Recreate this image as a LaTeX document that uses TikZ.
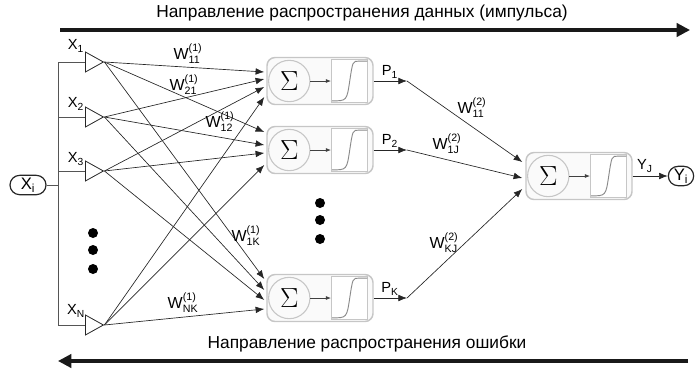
\documentclass[tikz,border=0pt]{standalone}
\usepackage{amsmath}
\usepackage{fontspec}
\setmainfont{Liberation Sans}
\usetikzlibrary{shapes.geometric, shapes.misc, arrows.meta, calc}
\definecolor{boxline}{HTML}{C6C6C6}
\definecolor{boxfill}{HTML}{FAFAFA}
\definecolor{sigline}{HTML}{8A8A8A}
\definecolor{busline}{HTML}{555555}

\newcommand{\wlab}[2]{$\text{W}^{\text{(#2)}}_{\text{#1}}$}
\newcommand{\slab}[2]{$\text{#1}_{\text{#2}}$}

\begin{document}
\begin{tikzpicture}[x=0.75pt, y=-0.75pt,
    font=\fontsize{11}{13}\selectfont,
    inputtri/.style = {isosceles triangle, isosceles triangle stretches, draw=black!85, fill=white, inner sep=0pt, minimum width=15pt, minimum height=13.5pt, anchor=west, line width=0.6pt},
    neuron/.style = {rectangle, rounded corners=6pt, draw=boxline, fill=boxfill, line width=1.1pt, minimum width=79.5pt, minimum height=35.25pt},
    sumcirc/.style = {circle, draw=boxline, fill=boxfill, line width=0.8pt, minimum size=31pt, inner sep=0pt, font=\huge},
    actbox/.style = {rectangle, draw=boxline, fill=white, line width=0.8pt, minimum width=27pt, minimum height=32pt, inner sep=0pt},
    sig/.style = {draw=sigline, line width=0.7pt},
    ionode/.style = {rounded rectangle, draw=black!85, line width=0.9pt, inner sep=0pt, minimum height=14.5pt, font=\fontsize{12.5}{14}\selectfont},
    syn/.style = {draw=black!85, line width=0.5pt, -{Latex[length=6.5pt, width=5pt]}},
    bus/.style = {draw=busline, line width=0.6pt},
    dirarrow/.style = {draw=black!90, line width=2.3pt, -{Triangle[length=10pt, width=10pt]}},
    dot/.style = {circle, fill=black, inner sep=0pt, minimum size=7.5pt},
    wtext/.style = {font=\fontsize{12}{14}\selectfont},
    dirtext/.style = {font=\fontsize{13}{15}\selectfont}
]
\useasboundingbox (0,0) rectangle (696,369);

% Direction arrows
\node (fwdtxt) [dirtext] at (362,13) {Направление распространения данных (импульса)};
\coordinate (fwdL) at (60,30);
\coordinate (fwdR) at (690,30);
\draw [dirarrow] (fwdL) -- (fwdR);
\node (bwdtxt) [dirtext] at (367,344) {Направление распространения ошибки};
\coordinate (bwdR) at (688,361);
\coordinate (bwdL) at (58,361);
\draw [dirarrow] (bwdR) -- (bwdL);

% Input
\node (Xi) [ionode, minimum width=27pt] at (28,185) {\slab{X}{i}};
\coordinate (busT) at (58,62);
\coordinate (busB) at (58,325);
\coordinate (busX) at (58,185);

\node (in1) [inputtri] at (85,62) {};
\node (in2) [inputtri] at (85,117) {};
\node (in3) [inputtri] at (85,171) {};
\node (inN) [inputtri] at (85,325) {};
\node (lx1) at (76,46) {\slab{X}{1}};
\node (lx2) at (76,104) {\slab{X}{2}};
\node (lx3) at (76,159) {\slab{X}{3}};
\node (lxN) at (76,311) {\slab{X}{N}};

\node (d1) [dot] at (93,233) {};
\node (d2) [dot] at (93,250) {};
\node (d3) [dot] at (93,269) {};

\draw [bus] (Xi.east) -- (busX);
\draw [bus] (in1.west) -- (busT) -- (busB) -- (inN.west);
\draw [bus] (in2.west) -- (in2.west -| busT);
\draw [bus] (in3.west) -- (in3.west -| busT);

% Hidden layer and output neuron
\node (H1) [neuron] at (320,81) {};
\node (H2) [neuron] at (320,150) {};
\node (HK) [neuron] at (320,298) {};
\node (O) [neuron] at (579,176) {};
\foreach \n in {H1,H2,HK,O} {
  \node (\n-s) [sumcirc] at ($(\n.west)+(23,0)$) {$\Sigma$};
  \node (\n-a) [actbox] at ($(\n.east)+(-24,0)$) {};
  \draw [draw=black!75, line width=0.7pt, -{Latex[length=4pt, width=3pt]}] (\n-s) -- (\n-a);
  \draw [sig] ($(\n-a.south west)+(1,-2)$) .. controls ($(\n-a.south)+(-3,-2)$) .. (\n-a.center)
    .. controls ($(\n-a.north)+(3,2)$) .. ($(\n-a.north)+(9,2)$) -- ($(\n-a.north east)+(-1,2)$);
}

\node (d4) [dot] at (320,203) {};
\node (d5) [dot] at (320,220) {};
\node (d6) [dot] at (320,239) {};

% Input -> hidden
\draw [syn] (in1.apex) -- ($(H1.west)+(-2,-9)$);
\draw [syn] (in2.apex) -- ($(H1.west)+(-2,-2)$);
\draw [syn] (in3.apex) -- ($(H1.west)+(-2,6)$);
\draw [syn] (inN.apex) -- ($(H1.west)+(-2,16)$);
\draw [syn] (in1.apex) -- ($(H2.west)+(-2,-18)$);
\draw [syn] (in2.apex) -- ($(H2.west)+(-2,-5)$);
\draw [syn] (in3.apex) -- ($(H2.west)+(-2,3)$);
\draw [syn] (inN.apex) -- ($(H2.west)+(-2,15)$);
\draw [syn] (in1.apex) -- ($(HK.west)+(-2,-19)$);
\draw [syn] (in2.apex) -- ($(HK.west)+(-2,-8)$);
\draw [syn] (in3.apex) -- ($(HK.west)+(-2,2)$);
\draw [syn] (inN.apex) -- ($(HK.west)+(-2,11)$);

\node (w11a) [wtext] at (188,54) {\wlab{11}{1}};
\node (w21a) [wtext] at (184,85) {\wlab{21}{1}};
\node (w12a) [wtext] at (220,122) {\wlab{12}{1}};
\node (w1Ka) [wtext] at (246,236) {\wlab{1K}{1}};
\node (wNKa) [wtext] at (183,303) {\wlab{NK}{1}};

% Hidden -> output
\coordinate (p1) at (407,81);
\coordinate (p2) at (407,150);
\coordinate (pK) at (407,298);
\draw [syn] (H1.east) -- (p1);
\draw [syn] (H2.east) -- (p2);
\draw [syn] (HK.east) -- (pK);
\node (lp1) at (390,72) {\slab{P}{1}};
\node (lp2) at (390,141) {\slab{P}{2}};
\node (lpK) at (390,289) {\slab{P}{K}};
\draw [syn] (p1) -- ($(O.west)+(-3,-14)$);
\draw [syn] (p2) -- ($(O.west)+(-3,2)$);
\draw [syn] (pK) -- ($(O.west)+(-3,13)$);
\node (w11b) [wtext] at (472,108) {\wlab{11}{2}};
\node (w1Jb) [wtext] at (447,144) {\wlab{1J}{2}};
\node (wKJb) [wtext] at (444,243) {\wlab{KJ}{2}};

% Output
\node (Yi) [ionode, minimum width=19pt] at (681,176) {\slab{Y}{i}};
\draw [syn] (O.east) -- (Yi.west);
\node (lyJ) at (645,166) {\slab{Y}{J}};

\end{tikzpicture}
\end{document}
